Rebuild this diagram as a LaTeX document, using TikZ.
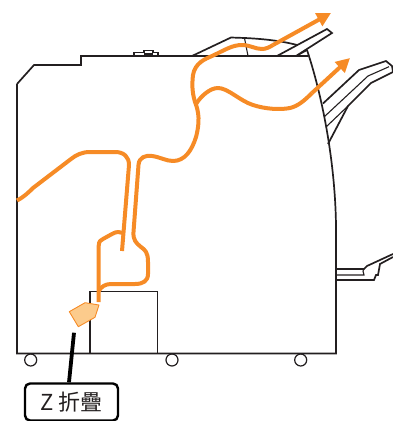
\documentclass[tikz,border=0pt]{standalone}
\usepackage{fontspec}
\newfontfamily\cjkfont{Noto Sans CJK TC}
\usetikzlibrary{arrows.meta}
\definecolor{flow}{HTML}{F68B26}
\definecolor{flowfill}{HTML}{FCCB8C}
\definecolor{ink}{HTML}{231F20}
\tikzset{
  outline/.style={draw=ink,line width=1.7pt,line join=miter},
  thinline/.style={draw=ink,line width=1.1pt},
  flowline/.style={draw=flow,line width=4pt,line join=round},
  flowarrow/.style={flowline,-{Triangle[length=14pt,width=14pt]}},
  wheel/.style={circle,draw=ink,line width=1.2pt,minimum size=12pt,inner sep=0pt},
  labelbox/.style={draw=black,line width=2.4pt,rounded corners=5pt,fill=white,minimum width=93pt,minimum height=37pt,inner sep=0pt,font=\cjkfont\fontsize{22}{24}\selectfont,text=ink},
  pointer/.style={draw=black,line width=3.8pt}
}
\begin{document}
\begin{tikzpicture}[x=1pt,y=-1pt]
\useasboundingbox (0,0) rectangle (393,421);
% body
\draw[outline] (17,84) -- (34,65) -- (81,65) -- (81,56) -- (308,56);
\draw[outline] (17,84) -- (17,353.5) -- (336,353.5) -- (336,225)
  .. controls (335,160) and (322,95) .. (307,50);
\draw[thinline] (90,353.5) -- (90,291.7) -- (157.5,291.7) -- (157.5,353.5);
% cap on top
\draw[thinline] (134,56) -- (134,52.5) -- (144,52.5) -- (144,50.5) -- (153,50.5) -- (153,52.5) -- (158,52.5) -- (158,56);
\draw[thinline] (144,54) -- (153,54);
% top tray
\draw[outline] (192,56) -- (231,37.5) -- (245,38) .. controls (265,39) and (282,41) .. (297,45);
\draw[thinline] (244.5,38) -- (248,56);
\draw[outline] (277,56) -- (327,29) -- (332,33) -- (296,56) -- (307,50);
% middle tray
\draw[outline] (323,103.5) -- (359,70) -- (386,61) -- (392,66) -- (393,72) -- (371,83) -- (348,106) -- (328,144);
\draw[thinline] (324,117) -- (368,76) -- (389,66.7);
\draw[thinline] (326,127) -- (348,106);
% bottom tray
\draw[outline] (336,269) -- (364,269) -- (367,266) -- (393,254);
\draw[thinline] (336,275) -- (364,275) -- (363,271) -- (364,269);
\draw[outline] (336,280) -- (374,280) -- (376,275) -- (378,275) -- (380,264) -- (393,257);
% wheels
\node[wheel] (w1) at (30.7,360) {};
\node[wheel] (w2) at (172,360) {};
\node[wheel] (w3) at (300.7,360) {};
% flow paths
\draw[flowline] (17,200.5) .. controls (24,197) and (30,191) .. (33,188) -- (71,159)
  .. controls (76,155) and (82,152) .. (90,152) -- (115,152)
  .. controls (124,152) and (129,157) .. (129,165) -- (122,251);
\draw[flowline] (98.7,302) -- (98.7,246) .. controls (98.7,241) and (101,240) .. (103,239)
  -- (112,234) .. controls (117,231) and (120,232) .. (123,233);
\draw[flowline] (98.7,291) .. controls (101,287) and (105,284) .. (111,284) -- (135,284)
  .. controls (143,284) and (148,281) .. (148,274) -- (148,262)
  .. controls (148,252) and (145,250) .. (141,247)
  .. controls (136,243) and (133,240) .. (133.5,232) -- (138.5,165)
  .. controls (139,157) and (146,155) .. (152,156)
  .. controls (160,157) and (166,161) .. (173,161)
  .. controls (185,161) and (192,150) .. (196,137)
  .. controls (200,122) and (199,112) .. (195,102)
  .. controls (192,92) and (192,84) .. (193,75)
  .. controls (195,63) and (205,59) .. (212,56)
  .. controls (225,50) and (232,45) .. (242,45)
  .. controls (250,45) and (255,49) .. (262,49)
  .. controls (266,49) and (270,47) .. (273,45);
\draw[flowarrow] (273,45) -- (331,13);
\draw[flowline] (196,104) .. controls (201,96) and (210,88) .. (218,88)
  .. controls (228,88) and (240,101) .. (253,105)
  .. controls (265,109) and (280,110) .. (290,108)
  .. controls (298,106) and (304,101) .. (312,93);
\draw[flowarrow] (312,93) -- (350,58);
% folded paper
\node[inner sep=0pt,minimum size=0pt] (paper) at (85,315) {};
\draw[draw=flow,fill=flowfill,line width=0.9pt,line join=round] (69.3,311.7) -- (85,302.7) -- (99,305) -- (95,317.3) -- (78.3,326.7) -- cycle;
% label
\node[labelbox] (zlabel) at (71.5,402) {Z 折疊};
\coordinate (ptip) at (74,332.7);
\draw[pointer] (ptip) -- (zlabel.north -| 69,0);
\end{tikzpicture}
\end{document}
